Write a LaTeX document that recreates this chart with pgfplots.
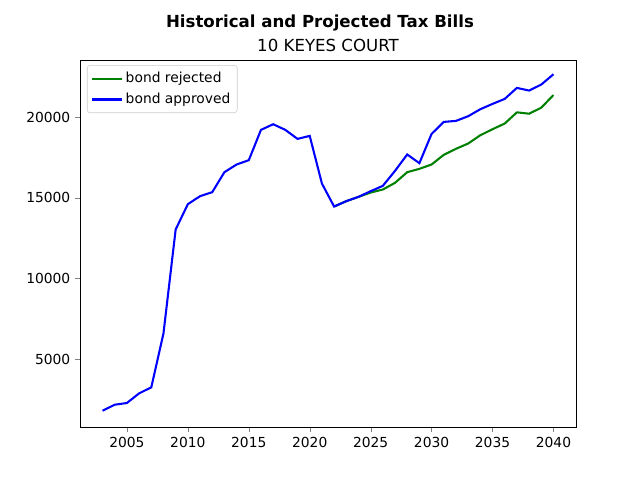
\documentclass[border=0pt]{standalone}
\usepackage{pgfplots}
\pgfplotsset{compat=1.18}
\usepackage{fontspec}
\setmainfont{DejaVu Sans}
\begin{document}
\begin{tikzpicture}[x=1in,y=1in]
\path[use as bounding box] (-0.80,-0.53) rectangle (5.60,4.27);
\begin{axis}[
  at={(0,0)}, anchor=south west,
  scale only axis, width=4.96in, height=3.67in,
  xmin=2001.15, xmax=2041.85, ymin=785, ymax=23550,
  xtick={2005,2010,...,2040}, ytick={5000,10000,15000,20000},
  scaled ticks=false,
  /pgf/number format/assume math mode=true,
  /pgf/number format/fixed,
  /pgf/number format/set thousands separator={},
  tick label style={font=\fontsize{10}{12}\selectfont},
  tick align=outside, xtick pos=bottom, ytick pos=left,
  major tick length=3.5pt,
  legend style={at={(0.014,0.986)}, anchor=north west, draw=black!20, rounded corners=2pt,
    font=\fontsize{10}{12}\selectfont, inner xsep=3pt, inner ysep=3pt, row sep=2pt},
  legend cell align=left,
  legend image code/.code={\draw[#1] (0cm,0cm) -- (0.75cm,0cm);},
]
\addplot[color={rgb,1:red,0;green,0.5;blue,0}, line width=1.5pt] coordinates {
(2022,14460) (2023,14793) (2024,15061) (2025,15330) (2026,15517) (2027,15930) (2028,16591) (2029,16798) (2030,17068) (2031,17668) (2032,18040) (2033,18369) (2034,18883) (2035,19256) (2036,19608) (2037,20302) (2038,20219) (2039,20591) (2040,21377)
};
\addlegendentry{bond rejected}
\addplot[color=blue, line width=1.5pt] coordinates {
(2003,1795) (2004,2168) (2005,2273) (2006,2872) (2007,3244) (2008,6591) (2009,13039) (2010,14607) (2011,15103) (2012,15351) (2013,16591) (2014,17068) (2015,17335) (2016,19215) (2017,19566) (2018,19215) (2019,18656) (2020,18842) (2021,15888) (2022,14460) (2023,14793) (2024,15061) (2025,15413) (2026,15744) (2027,16674) (2028,17689) (2029,17150) (2030,18966) (2031,19710) (2032,19772) (2033,20062) (2034,20496) (2035,20827) (2036,21137) (2037,21819) (2038,21654) (2039,22026) (2040,22666)
};
\addlegendentry{bond approved}
\end{axis}
\node[anchor=base, font=\fontsize{12}{14}\selectfont] at (2.48,3.755) {10 KEYES COURT};
\node[anchor=north, font=\fontsize{12}{14}\selectfont\bfseries] at (2.40,4.174) {Historical and Projected Tax Bills};
\end{tikzpicture}
\end{document}
